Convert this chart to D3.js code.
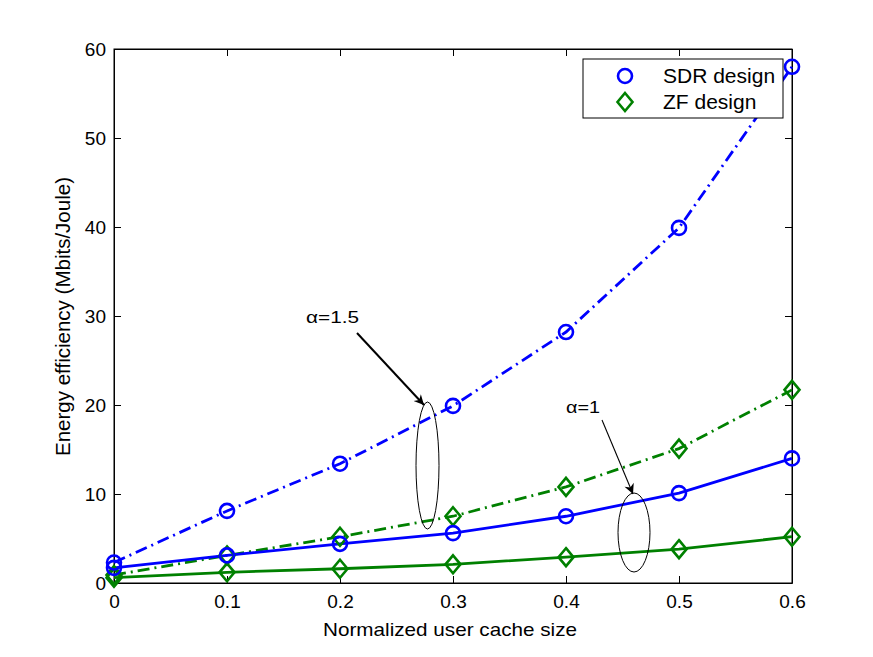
<!DOCTYPE html>
<html><head><meta charset="utf-8">
<script src="https://cdnjs.cloudflare.com/ajax/libs/d3/7.8.5/d3.min.js"></script>
<style>body{margin:0;background:#fff}svg{display:block}text{font-family:"Liberation Sans",Arial,sans-serif}</style>
</head><body><svg id="c" width="873" height="657"></svg>
<script>
const xValues = [0, 0.1, 0.2, 0.3, 0.4, 0.5, 0.6];
const sdrAlpha15 = [2.3, 8.1, 13.4, 19.9, 28.2, 39.9, 58.0];
const sdrAlpha1  = [1.7, 3.1, 4.4, 5.6, 7.5, 10.1, 14.0];
const zfAlpha15  = [0.9, 3.1, 5.2, 7.5, 10.8, 15.1, 21.7];
const zfAlpha1   = [0.6, 1.2, 1.6, 2.1, 2.9, 3.8, 5.2];
const xTicks = [0, 0.1, 0.2, 0.3, 0.4, 0.5, 0.6];
const yTicks = [0, 10, 20, 30, 40, 50, 60];
const legendLabels = ["SDR design", "ZF design"];

const svg = d3.select("#c");
const L = 114, R = 792, T = 49, B = 583;
const x = d3.scaleLinear().domain([0, 0.6]).range([L, R]);
const y = d3.scaleLinear().domain([0, 60]).range([B, T]);
const blue = "#0000ff", green = "#008000";

svg.append("rect").attr("x", L).attr("y", T).attr("width", R - L).attr("height", B - T)
  .attr("fill", "none").attr("stroke", "#000").attr("stroke-width", 1);

const fmtX = d => d === 0 ? "0" : d3.format(".1f")(d);
const xb = svg.append("g").attr("transform", `translate(0,${B})`)
  .call(d3.axisBottom(x).tickValues(xTicks).tickFormat(fmtX).tickSizeInner(-7).tickSizeOuter(0).tickPadding(12));
const xt = svg.append("g").attr("transform", `translate(0,${T})`)
  .call(d3.axisTop(x).tickValues(xTicks).tickFormat("").tickSizeInner(-7).tickSizeOuter(0));
const yl = svg.append("g").attr("transform", `translate(${L},0)`)
  .call(d3.axisLeft(y).tickValues(yTicks).tickSizeInner(-7).tickSizeOuter(0).tickPadding(8));
const yr = svg.append("g").attr("transform", `translate(${R},0)`)
  .call(d3.axisRight(y).tickValues(yTicks).tickFormat("").tickSizeInner(-7).tickSizeOuter(0));
[xb, xt, yl, yr].forEach(g => {
  g.select(".domain").attr("stroke", "#000");
  g.selectAll(".tick line").attr("stroke", "#000");
  g.selectAll("text").attr("font-size", 19).attr("fill", "#000")
   .attr("font-family", '"Liberation Sans",Arial,sans-serif');
});

const series = [
  {v: zfAlpha1, c: green, dash: null, m: "d"},
  {v: zfAlpha15, c: green, dash: "12,5,2,5", m: "d"},
  {v: sdrAlpha1, c: blue, dash: null, m: "o"},
  {v: sdrAlpha15, c: blue, dash: "12,5,2,5", m: "o"},
];
const line = d3.line().x((d, i) => x(xValues[i])).y(d => y(d));
const diamond = (cx, cy) => `M${cx},${cy-9}L${cx+7.5},${cy}L${cx},${cy+9}L${cx-7.5},${cy}Z`;
series.forEach(s => {
  svg.append("path").datum(s.v).attr("d", line).attr("fill", "none")
    .attr("stroke", s.c).attr("stroke-width", 2.8).attr("stroke-dasharray", s.dash);
});
series.forEach(s => {
  const g = svg.append("g");
  s.v.forEach((d, i) => {
    if (s.m === "o") g.append("circle").attr("cx", x(xValues[i])).attr("cy", y(d)).attr("r", 7)
      .attr("fill", "none").attr("stroke", s.c).attr("stroke-width", 2.6);
    else g.append("path").attr("d", diamond(x(xValues[i]), y(d)))
      .attr("fill", "none").attr("stroke", s.c).attr("stroke-width", 2.6);
  });
});

const defs = svg.append("defs");
defs.append("marker").attr("id", "ah").attr("viewBox", "0 0 10 10").attr("refX", 10).attr("refY", 5)
  .attr("markerWidth", 13).attr("markerHeight", 10).attr("markerUnits", "userSpaceOnUse").attr("orient", "auto")
  .append("path").attr("d", "M0,0L10,5L0,10L3,5Z").attr("fill", "#000");
svg.append("line").attr("x1", 357).attr("y1", 333).attr("x2", 424).attr("y2", 405)
  .attr("stroke", "#000").attr("stroke-width", 2).attr("marker-end", "url(#ah)");
svg.append("ellipse").attr("cx", 427.5).attr("cy", 465.5).attr("rx", 11.5).attr("ry", 63.5)
  .attr("fill", "none").attr("stroke", "#000").attr("stroke-width", 1);
svg.append("text").attr("x", 306).attr("y", 323).attr("font-size", 17)
  .attr("textLength", 53).attr("lengthAdjust", "spacingAndGlyphs").text("α=1.5");

svg.append("line").attr("x1", 602).attr("y1", 420).attr("x2", 633).attr("y2", 494)
  .attr("stroke", "#000").attr("stroke-width", 1.1).attr("marker-end", "url(#ah)");
svg.append("ellipse").attr("cx", 634).attr("cy", 532.5).attr("rx", 16).attr("ry", 39.5)
  .attr("fill", "none").attr("stroke", "#000").attr("stroke-width", 1);
svg.append("text").attr("x", 566).attr("y", 413).attr("font-size", 17)
  .attr("textLength", 34).attr("lengthAdjust", "spacingAndGlyphs").text("α=1");

svg.append("text").attr("x", 450).attr("y", 636).attr("text-anchor", "middle")
  .attr("font-size", 19).attr("textLength", 254).attr("lengthAdjust", "spacingAndGlyphs")
  .text("Normalized user cache size");
svg.append("text").attr("transform", `translate(70,316.5) rotate(-90)`).attr("text-anchor", "middle")
  .attr("font-size", 20).attr("textLength", 279).attr("lengthAdjust", "spacingAndGlyphs")
  .text("Energy efficiency (Mbits/Joule)");

const lg = svg.append("g");
lg.append("rect").attr("x", 583).attr("y", 59).attr("width", 200).attr("height", 59)
  .attr("fill", "#fff").attr("stroke", "#000").attr("stroke-width", 1);
legendLabels.forEach((t, i) => {
  const cy = 76 + i * 26;
  if (i === 0) lg.append("circle").attr("cx", 625).attr("cy", cy).attr("r", 7)
    .attr("fill", "none").attr("stroke", blue).attr("stroke-width", 2.6);
  else lg.append("path").attr("d", diamond(625, cy)).attr("fill", "none").attr("stroke", green).attr("stroke-width", 2.6);
  lg.append("text").attr("x", 663).attr("y", cy + 7).attr("font-size", 21).text(t);
});
</script></body></html>
